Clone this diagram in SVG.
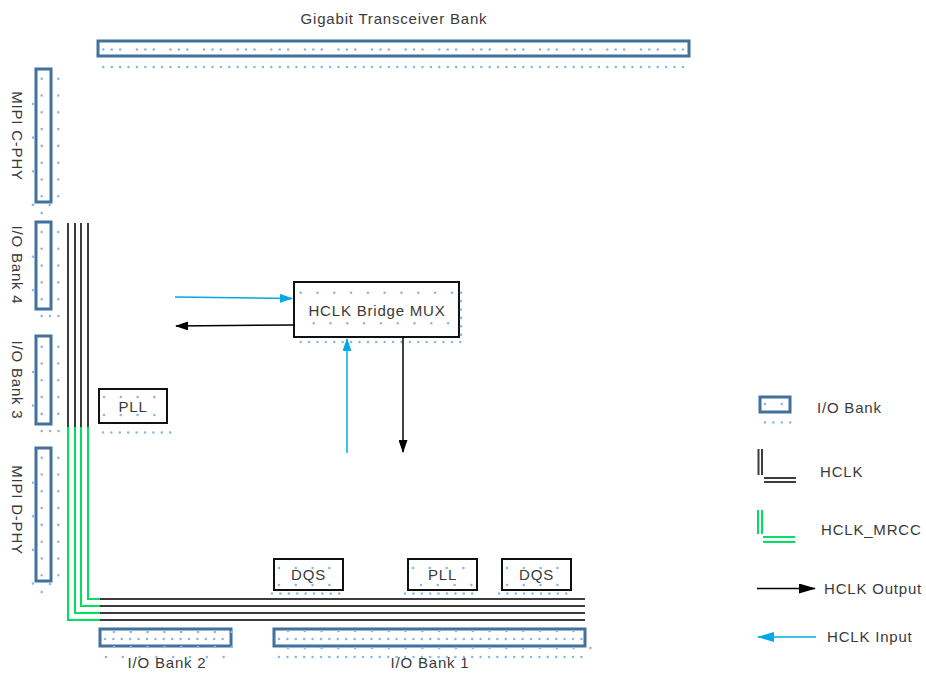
<svg xmlns="http://www.w3.org/2000/svg" width="926" height="673" viewBox="0 0 926 673">
<style>
text{font-family:"Liberation Sans",Arial,sans-serif;font-size:15px;letter-spacing:0.8px;fill:#3a3a3a}
.bank{fill:#fff;stroke:#41719c;stroke-width:3}
.blk{fill:#fff;stroke:#111;stroke-width:2}
.d,.d16,.d3,.d33{stroke:#86b8ea;stroke-width:2.6;stroke-linecap:round;fill:none}
.d{stroke-dasharray:0 8.4}
.d16{stroke-dasharray:0 16.8}
.d3{stroke-dasharray:0 8.4 0 8.4 0 16.8}
.d33{stroke-dasharray:0 33.6}
.hk{stroke:#3c3c3c;stroke-width:2;fill:none}
.gr{stroke:#00e060;stroke-width:2;fill:none}
.out{stroke:#000;stroke-width:1.5;fill:none}
.in{stroke:#00a8e8;stroke-width:1.5;fill:none}
</style>
<defs>
<marker id="ab" markerWidth="13" markerHeight="9" refX="12" refY="4.5" orient="auto" markerUnits="userSpaceOnUse"><path d="M0,0 L13,4.5 L0,9 z" fill="#000"/></marker>
<marker id="ac" markerWidth="13" markerHeight="9" refX="12" refY="4.5" orient="auto" markerUnits="userSpaceOnUse"><path d="M0,0 L13,4.5 L0,9 z" fill="#00a8e8"/></marker>
<marker id="abL" markerWidth="17" markerHeight="10" refX="16" refY="5" orient="auto" markerUnits="userSpaceOnUse"><path d="M0,0 L17,5 L0,10 z" fill="#000"/></marker>
<marker id="acL" markerWidth="17" markerHeight="10" refX="16" refY="5" orient="auto" markerUnits="userSpaceOnUse"><path d="M0,0 L17,5 L0,10 z" fill="#00a8e8"/></marker>
</defs>

<g id="gtb">
<rect class="bank" x="98" y="41" width="591" height="15"/>
<line class="d3" x1="103.3" y1="49.5" x2="689" y2="49.5"/>
<line class="d" x1="103.3" y1="67" x2="690" y2="67"/>
<text x="394" y="24" text-anchor="middle">Gigabit Transceiver Bank</text>
</g>

<g id="mipi-c">
<rect class="bank" x="36" y="69" width="15" height="133"/>
<line class="d16" x1="41.7" y1="78.7" x2="41.7" y2="200"/>
<line class="d16" x1="58.3" y1="78.7" x2="58.3" y2="200"/>
<line class="d33" x1="33" y1="104" x2="33" y2="210"/>
<line class="d16" x1="33" y1="205" x2="52" y2="205"/>
<circle cx="41.7" cy="213" r="1.3" fill="#86b8ea"/>
<text transform="rotate(90 16 136)" x="16" y="136" text-anchor="middle" dominant-baseline="middle">MIPI C-PHY</text>
</g>

<g id="bank4">
<rect class="bank" x="36" y="222" width="15" height="87"/>
<line class="d16" x1="41.7" y1="232" x2="41.7" y2="300"/>
<line class="d16" x1="58.3" y1="232" x2="58.3" y2="300"/>
<line class="d33" x1="33" y1="256.7" x2="33" y2="292"/>
<line class="d" x1="41.7" y1="316" x2="59" y2="316"/>
<text transform="rotate(90 16 265)" x="16" y="265" text-anchor="middle" dominant-baseline="middle">I/O Bank 4</text>
</g>

<g id="bank3">
<rect class="bank" x="36" y="336" width="15" height="88"/>
<line class="d16" x1="41.7" y1="346.7" x2="41.7" y2="415"/>
<line class="d16" x1="58.3" y1="346.7" x2="58.3" y2="415"/>
<line class="d33" x1="33" y1="372" x2="33" y2="407"/>
<line class="d" x1="41.7" y1="431" x2="59" y2="431"/>
<text transform="rotate(90 16 380)" x="16" y="380" text-anchor="middle" dominant-baseline="middle">I/O Bank 3</text>
</g>

<g id="mipi-d">
<rect class="bank" x="36" y="448" width="15" height="133"/>
<line class="d16" x1="41.7" y1="457.7" x2="41.7" y2="577"/>
<line class="d16" x1="58.3" y1="457.7" x2="58.3" y2="577"/>
<line class="d33" x1="33" y1="482.7" x2="33" y2="585"/>
<circle cx="50" cy="584" r="1.3" fill="#86b8ea"/>
<circle cx="41.7" cy="592" r="1.3" fill="#86b8ea"/>
<text transform="rotate(90 16 510)" x="16" y="510" text-anchor="middle" dominant-baseline="middle">MIPI D-PHY</text>
</g>

<g id="pll-left">
<rect class="blk" x="99" y="389" width="68" height="34"/>
<line class="d16" x1="104" y1="397" x2="170" y2="397"/>
<line class="d16" x1="104" y1="415" x2="170" y2="415"/>
<line class="d" x1="103" y1="432.5" x2="172" y2="432.5"/>
<text x="133" y="412" text-anchor="middle">PLL</text>
</g>

<g id="mux">
<rect class="blk" x="294" y="282" width="165" height="55"/>
<line class="d16" x1="300.7" y1="292.7" x2="460" y2="292.7"/>
<line class="d16" x1="313.7" y1="323.3" x2="460" y2="323.3"/>
<line class="d" x1="461" y1="292.7" x2="461" y2="340"/>
<line class="d" x1="300.7" y1="342" x2="462" y2="342"/>
<text x="377" y="316" text-anchor="middle">HCLK Bridge MUX</text>
</g>

<g id="dqs1">
<rect class="blk" x="274" y="559" width="69" height="31"/>
<line class="d16" x1="279" y1="568" x2="346" y2="568"/>
<line class="d16" x1="279" y1="585" x2="346" y2="585"/>
<line class="d" x1="272" y1="593.5" x2="340" y2="593.5"/>
<text x="308.5" y="580" text-anchor="middle">DQS</text>
</g>

<g id="pll-bottom">
<rect class="blk" x="408" y="559" width="69" height="31"/>
<line class="d16" x1="413" y1="568" x2="480" y2="568"/>
<line class="d16" x1="421" y1="585" x2="480" y2="585"/>
<line class="d" x1="405" y1="593.5" x2="473" y2="593.5"/>
<text x="442.5" y="580" text-anchor="middle">PLL</text>
</g>

<g id="dqs2">
<rect class="blk" x="502" y="559" width="69" height="31"/>
<line class="d16" x1="507" y1="568" x2="574" y2="568"/>
<line class="d16" x1="507" y1="585" x2="574" y2="585"/>
<line class="d" x1="499" y1="593.5" x2="567" y2="593.5"/>
<text x="536.5" y="580" text-anchor="middle">DQS</text>
</g>

<g id="bank2">
<rect class="bank" x="100" y="629" width="131" height="17"/>
<line class="d16" x1="114" y1="632" x2="232" y2="632"/>
<line class="d" x1="105" y1="639" x2="230" y2="639"/>
<line class="d16" x1="114" y1="647" x2="232" y2="647"/>
<line class="d16" x1="106" y1="657" x2="230" y2="657"/>
<text x="167" y="668" text-anchor="middle">I/O Bank 2</text>
</g>

<g id="bank1">
<rect class="bank" x="274" y="629" width="311" height="17"/>
<line class="d16" x1="288" y1="631" x2="586" y2="631"/>
<line class="d" x1="279" y1="639" x2="584" y2="639"/>
<line class="d16" x1="288" y1="648" x2="592" y2="648"/>
<line class="d" x1="279" y1="657" x2="584" y2="657"/>
<text x="430" y="668" text-anchor="middle">I/O Bank 1</text>
</g>

<g id="connectors">
<path class="hk" d="M68,223 V427 M75,223 V427 M81,223 V427 M88,223 V427"/>
<path class="gr" d="M68,427 V620 H100 M75,427 V613 H100 M81,427 V606 H100 M88,427 V599 H100"/>
<path class="hk" d="M100,599 H585 M100,606 H585 M100,613 H585 M100,620 H585"/>
<line class="in" x1="175" y1="297" x2="292" y2="298.5" marker-end="url(#ac)"/>
<line class="out" x1="294" y1="325" x2="176" y2="326" marker-end="url(#ab)"/>
<line class="in" x1="347" y1="453" x2="347" y2="339" marker-end="url(#ac)"/>
<line class="out" x1="403" y1="337" x2="403" y2="452" marker-end="url(#ab)"/>
</g>

<g id="legend">
<rect class="bank" x="760" y="397" width="30" height="15"/>
<line class="d16" x1="765" y1="404" x2="784" y2="404"/>
<line class="d" x1="765" y1="422.5" x2="791" y2="422.5"/>
<text x="817" y="413">I/O Bank</text>
<path class="hk" d="M758.5,449 V475 M762,449 V475 M764,478 H796 M764,482 H796"/>
<text x="820" y="477">HCLK</text>
<path class="gr" d="M758,510 V534 M762,510 V534 M763,537 H795 M763,542 H795"/>
<text x="821" y="535">HCLK_MRCC</text>
<line class="out" x1="757" y1="588.5" x2="815" y2="588.5" marker-end="url(#abL)"/>
<text x="824" y="594">HCLK Output</text>
<line class="in" x1="816" y1="637" x2="758" y2="637" marker-end="url(#acL)"/>
<text x="827" y="642">HCLK Input</text>
</g>
</svg>
